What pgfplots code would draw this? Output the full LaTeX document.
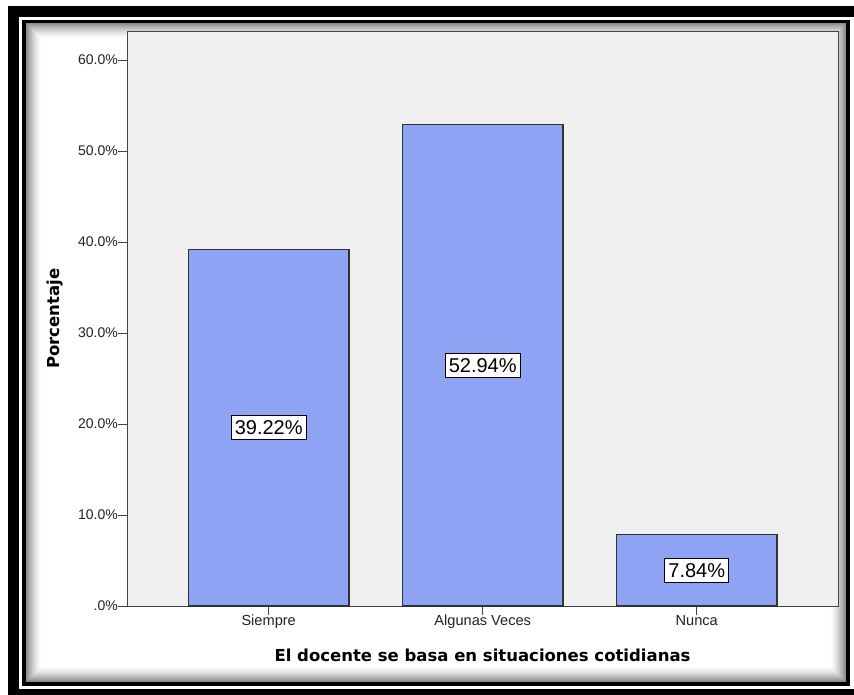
\documentclass[border=0pt]{standalone}
\usepackage{fontspec}
\setmainfont{Liberation Sans}
\newfontfamily\titlefont{DejaVu Sans}
\usepackage{pgfplots}
\usepackage{pgfplotstable}
\pgfplotsset{compat=1.18}

\definecolor{barblue}{RGB}{142,163,244}
\definecolor{plotbg}{RGB}{240,240,240}
\definecolor{axisgray}{RGB}{68,68,68}
\definecolor{baredge}{RGB}{50,50,50}
\definecolor{ticktext}{RGB}{34,34,34}

% percentage of answers per category
\pgfplotstableread{
x v
1 39.22
2 52.94
3 7.84
}\datatable

\begin{document}
\begin{tikzpicture}
\useasboundingbox (0pt,0pt) rectangle (854pt,-694pt);
\begin{scope}[x=1pt,y=-1pt]
  \fill[white] (0,0) rectangle (854,694);
  % heavy outer frame
  \draw[black, line width=11pt] (13.5,11.5) rectangle (862,694.5);
  % soft inner shadow of the panel
  \foreach \i in {0,...,15} {
    \pgfmathsetmacro\c{46*(1-\i/16)^1.6}
    \draw[black!\c, line width=1.05pt] (26.5+\i,23.9+\i) rectangle (845.5-\i,681.5-\i);
  }
  % thin frame of the panel
  \draw[black, line width=3.6pt] (24,21.6) rectangle (848,684);
\end{scope}

\begin{axis}[
  at={(127pt,-606pt)}, anchor=south west,
  scale only axis, width=711pt, height=575pt,
  xmin=0.338, xmax=3.66, ymin=0, ymax=63.19,
  axis background/.style={fill=plotbg},
  axis line style={draw=axisgray, line width=1pt},
  tick align=outside, tick pos=left,
  major tick length=9pt,
  tick style={draw=axisgray, line width=1pt},
  xtick={1,2,3}, xticklabels={Siempre, Algunas Veces, Nunca},
  ytick={0,10,...,60},
  yticklabels={.0\%,10.0\%,20.0\%,30.0\%,40.0\%,50.0\%,60.0\%},
  yticklabel style={font=\fontsize{14}{16}\selectfont, text=ticktext, inner sep=0pt, anchor=east},
  xticklabel style={font=\fontsize{14.6}{16}\selectfont, text=ticktext, inner sep=0pt, anchor=north,
    text height=10pt, text depth=3pt},
  xlabel={El docente se basa en situaciones cotidianas},
  ylabel={Porcentaje},
  every axis x label/.style={at={(axis description cs:0.5,-0.0957)}, anchor=base,
    font=\titlefont\bfseries\fontsize{16.5}{18}\selectfont, text=black},
  every axis y label/.style={at={(axis description cs:-0.1013,0.5)}, rotate=90, anchor=center,
    font=\titlefont\bfseries\fontsize{16.5}{18}\selectfont, text=black},
]
  \addplot[ybar, bar width=0.75, fill=barblue, draw=baredge, line width=1.2pt]
    table[x=x, y=v] {\datatable};
  % value boxes, centred halfway up each bar
  \addplot[draw=none, mark=none, point meta=explicit,
    nodes near coords={\pgfmathprintnumber[fixed,fixed zerofill,precision=2,assume math mode=true]{\pgfplotspointmeta}\%},
    every node near coord/.append style={anchor=center, draw=black, fill=white,
      line width=0.9pt, font=\fontsize{20}{21}\selectfont, text=black,
      inner xsep=3.5pt, inner ysep=0pt, minimum height=24pt}]
    table[x=x, y expr=\thisrow{v}/2, meta=v] {\datatable};
\end{axis}
\end{tikzpicture}
\end{document}
